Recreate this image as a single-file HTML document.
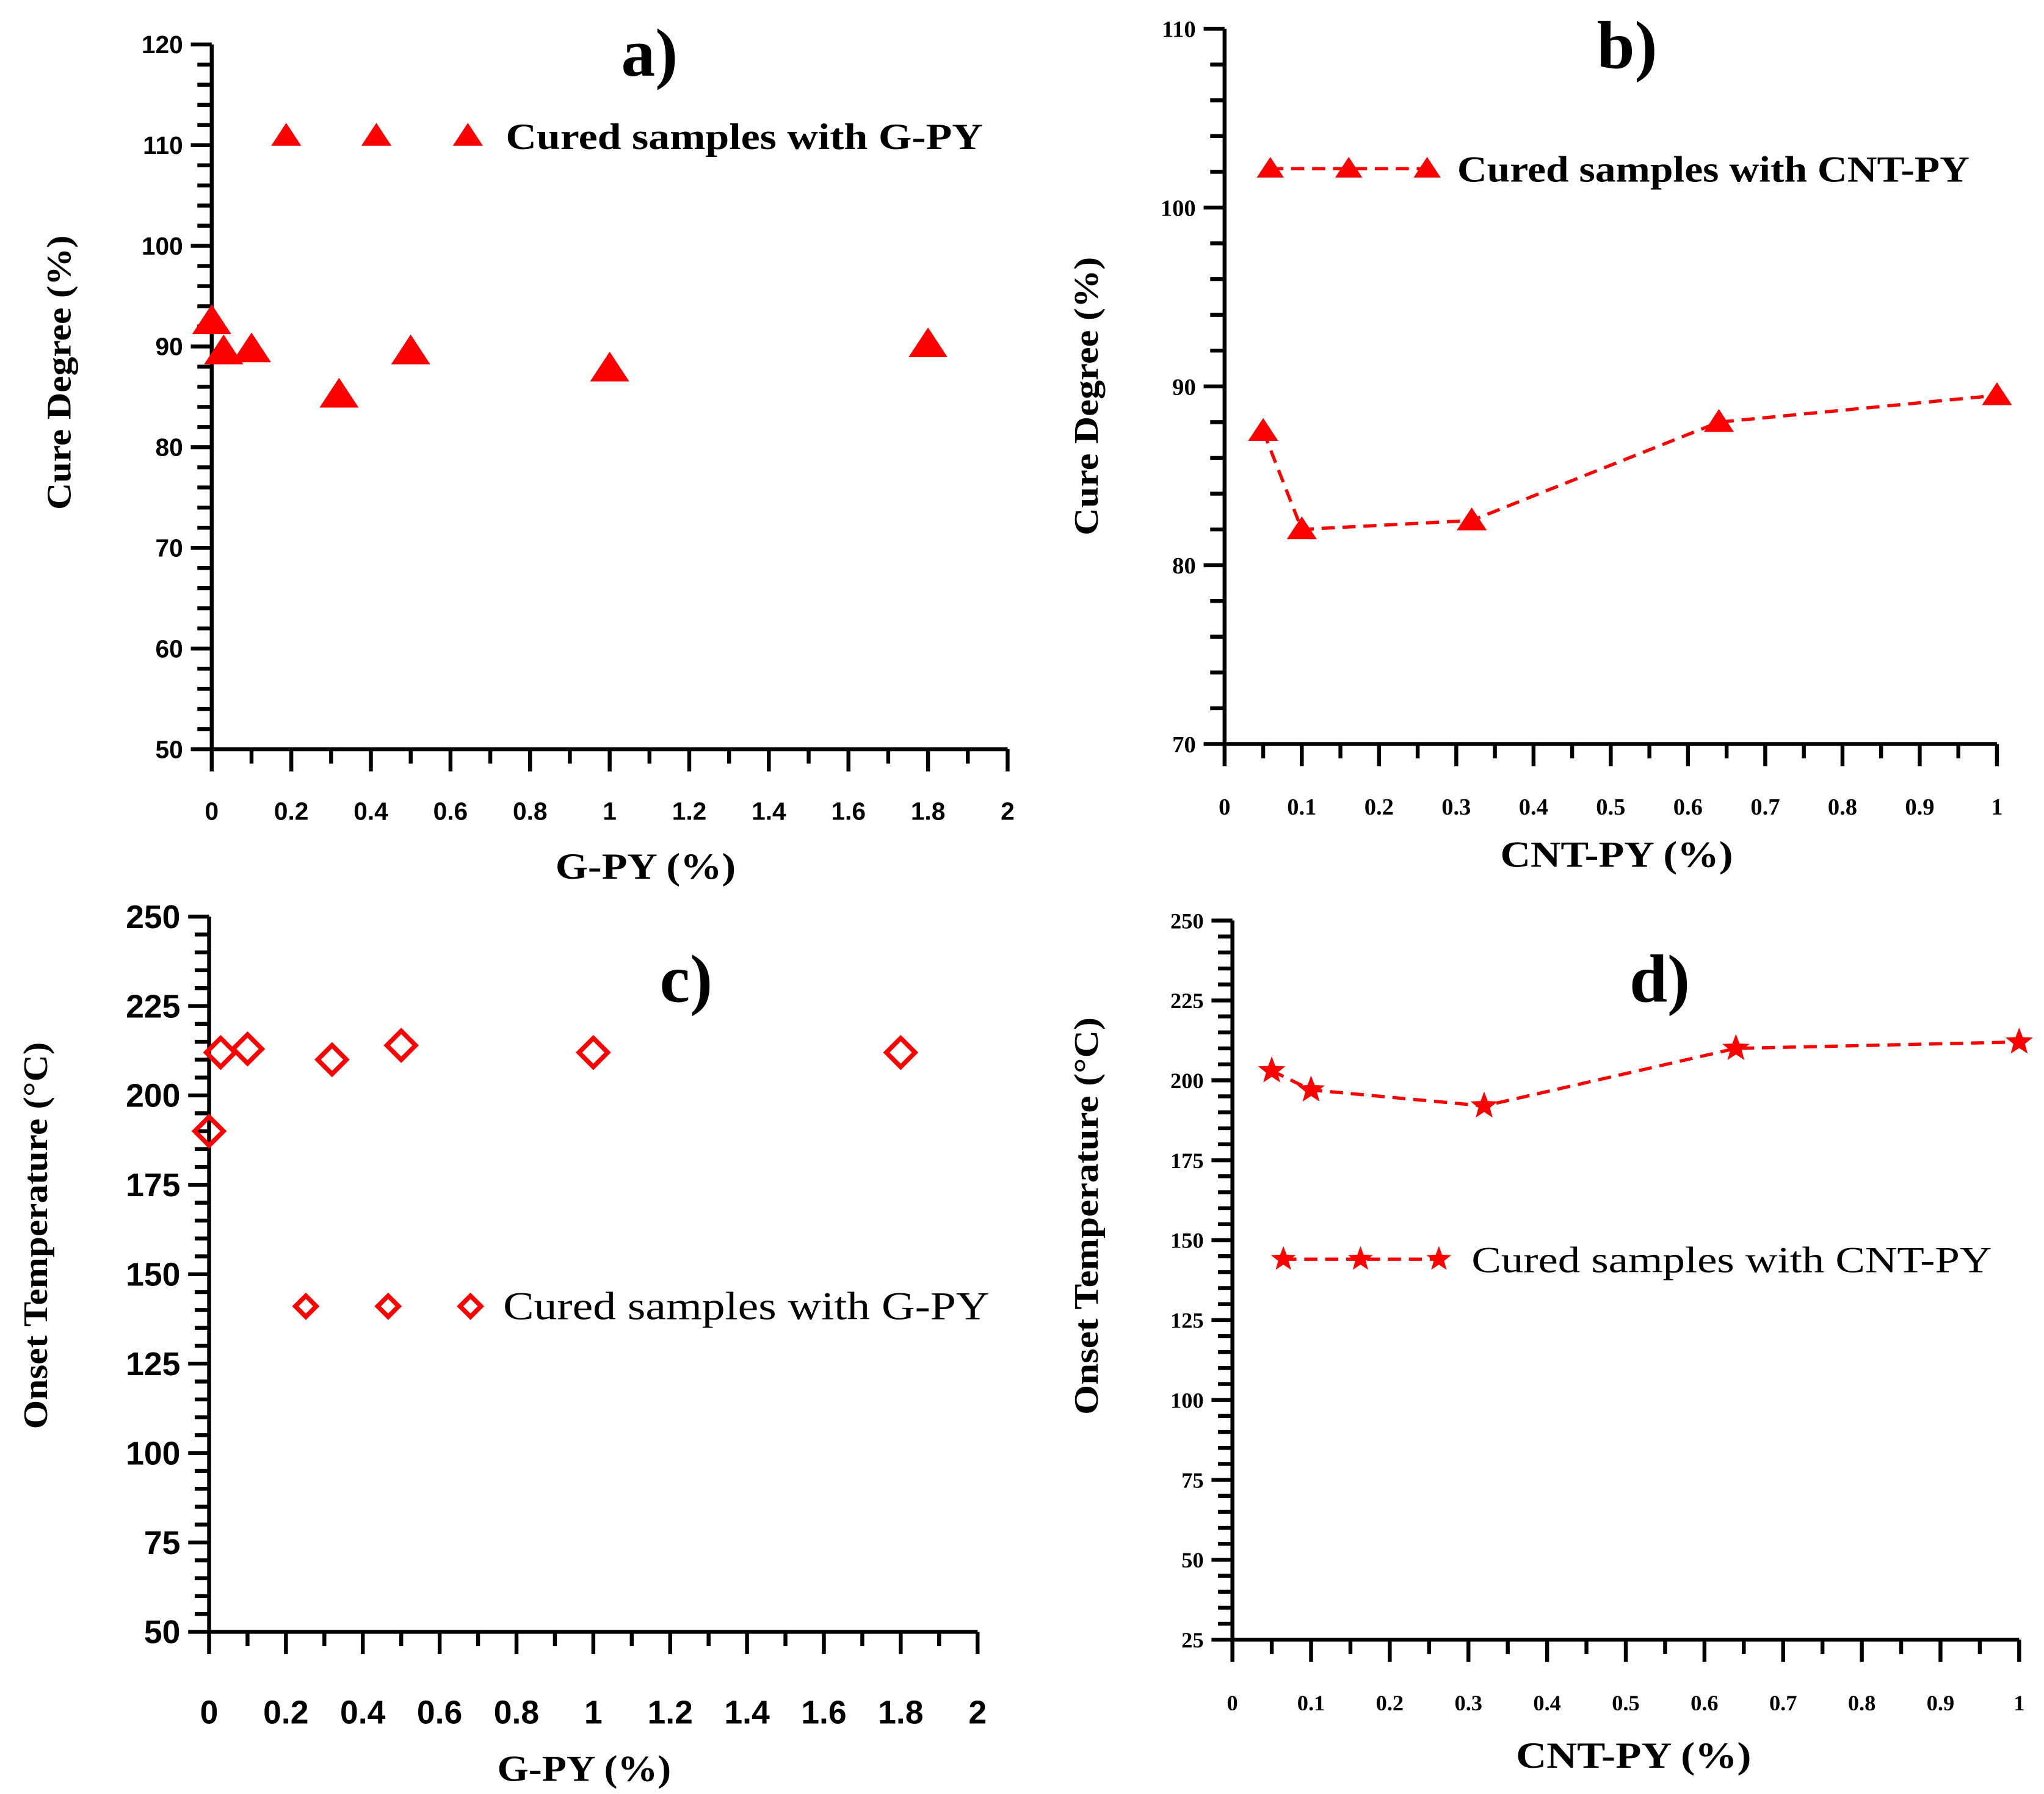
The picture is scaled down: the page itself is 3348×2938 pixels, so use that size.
<!DOCTYPE html>
<html><head><meta charset="utf-8"><style>html,body{margin:0;padding:0;background:#fff}svg{display:block}</style></head>
<body>
<svg id="fig" width="3348" height="2938" viewBox="0 0 1564 1372" preserveAspectRatio="none" xmlns="http://www.w3.org/2000/svg"></svg>
<script>
const aX=[0,0.03,0.1,0.32,0.5,1,1.8];
const aY=[92.5,89.5,89.7,85.2,89.5,87.8,90.2];
const bX=[0.05,0.1,0.32,0.64,1];
const bY=[87.5,82,82.5,88,89.5];
const cX=[0,0.03,0.1,0.32,0.5,1,1.8];
const cY=[190,212,213,210,214,212,212];
const dX=[0.05,0.1,0.32,0.64,1];
const dY=[203,197,192,210,212];
const aXTicks=["0","0.2","0.4","0.6","0.8","1","1.2","1.4","1.6","1.8","2"];
const aYTicks=["50","60","70","80","90","100","110","120"];
const bXTicks=["0","0.1","0.2","0.3","0.4","0.5","0.6","0.7","0.8","0.9","1"];
const bYTicks=["70","80","90","100","110"];
const cYTicks=["50","75","100","125","150","175","200","225","250"];
const dYTicks=["25","50","75","100","125","150","175","200","225","250"];

const NS="http://www.w3.org/2000/svg";
const svg=document.getElementById('fig');
function mk(tag,at,parent){const e=document.createElementNS(NS,tag);for(const k in at)e.setAttribute(k,at[k]);(parent||svg).appendChild(e);return e;}
function txt(s,at,parent){const e=mk('text',at,parent);e.textContent=s;return e;}

function marker(g,type,x,y,s){
  let e;
  if(type==='tri'){e=mk('polygon',{points:`${x},${y-s} ${x-s*1.15},${y+s*0.75} ${x+s*1.15},${y+s*0.75}`,fill:'#ff0000'},g);}
  else if(type==='dia'){e=mk('polygon',{points:`${x},${y-s} ${x+s},${y} ${x},${y+s} ${x-s},${y}`,fill:'none',stroke:'#ff0000','stroke-width':3.5},g);}
  else {let p=[];for(let i=0;i<10;i++){const r=i%2?s*0.42:s;const a=-Math.PI/2+i*Math.PI/5;p.push((x+r*Math.cos(a))+','+(y+r*Math.sin(a)));}
    e=mk('polygon',{points:p.join(' '),fill:'#ff0000'},g);}
  return e;
}

function panel(o){
  const g=mk('g',{});
  
  
  const sx=v=>o.x0+(v-o.xmin)/(o.xmax-o.xmin)*(o.x1-o.x0);
  const sy=v=>o.y0-(v-o.ymin)/(o.ymax-o.ymin)*(o.y0-o.y1);
  const ax=mk('path',{d:`M${o.x0},${o.y1} L${o.x0},${o.y0} L${o.x1},${o.y0}`,stroke:'#000','stroke-width':3,fill:'none'},g);
  
  
  const ny=o.yt.length-1, ystep=(o.ymax-o.ymin)/ny;
  for(let i=0;i<=ny*o.yminor;i++){
    const v=o.ymin+i*ystep/o.yminor, y=sy(v), major=i%o.yminor===0;
    mk('line',{x1:o.x0-(major?16:11),x2:o.x0,y1:y,y2:y,stroke:'#000','stroke-width':3},g);
  }
  o.yt.forEach((s,i)=>{const t=txt(s,{x:o.x0-22,y:sy(o.ymin+i*ystep)+o.yfs*0.35,'text-anchor':'end','font-family':o.tf,'font-weight':'bold','font-size':o.yfs},g);
    
    });
  const nx=o.xt.length-1, xstep=(o.xmax-o.xmin)/nx;
  for(let i=0;i<=nx*2;i++){
    const v=o.xmin+i*xstep/2, x=sx(v), major=i%2===0;
    mk('line',{x1:x,x2:x,y1:o.y0,y2:o.y0+(major?17:11),stroke:'#000','stroke-width':3},g);
  }
  o.xt.forEach((s,i)=>{const t=txt(s,{x:sx(o.xmin+i*xstep),y:o.y0+o.xoff,'text-anchor':'middle','font-family':o.tf,'font-weight':'bold','font-size':o.xfs},g);
    
    });
  const xt=txt(o.xtitle,{x:o.xtx,y:o.xty,'text-anchor':'middle','font-family':'Liberation Serif, serif','font-weight':'bold','font-size':28,textLength:o.xtl,lengthAdjust:'spacingAndGlyphs'},g);
  
  
  const yt=txt(o.ytitle,{x:0,y:0,'text-anchor':'middle','font-family':'Liberation Serif, serif','font-weight':'bold','font-size':o.ytfs,textLength:o.ytl,lengthAdjust:'spacingAndGlyphs',transform:`translate(${o.ytx},${o.yty}) rotate(-90)`},g);
  
  
  const pl=txt(o.label,{x:o.lx,y:o.ly,'text-anchor':'middle','font-family':'Liberation Serif, serif','font-weight':'bold','font-size':52},g);
  
  
  if(o.line){
    const pts=o.xs.map((v,i)=>sx(v)+','+sy(o.ys[i])).join(' ');
    const ln=mk('polyline',{points:pts,fill:'none',stroke:'#ff0000','stroke-width':2.5,'stroke-dasharray':'10,6'},g);
    
    
  }
  o.xs.forEach((v,i)=>{const m=marker(g,o.mk,sx(v),sy(o.ys[i]),o.ms);
    
    });
  const lg=mk('g',{},g);
  
  
  if(o.line) mk('line',{x1:o.lgx[0],x2:o.lgx[2],y1:o.lgy,y2:o.lgy,stroke:'#ff0000','stroke-width':2.5,'stroke-dasharray':'10,6'},lg);
  o.lgx.forEach(x=>marker(lg,o.mk,x,o.lgy,o.lms));
  txt(o.lgtext,{x:o.lgtx,y:o.lgy+10,'font-family':'Liberation Serif, serif','font-weight':o.lgw,'font-size':o.lgfs,textLength:o.lgl,lengthAdjust:'spacingAndGlyphs'},lg);
}

panel({name:'panel-a',x0:162,x1:771,y0:573,y1:34,xmin:0,xmax:2,ymin:50,ymax:120,xt:aXTicks,yt:aYTicks,yminor:5,
  tf:'Liberation Sans, sans-serif',yfs:19,xfs:19,xoff:54,xtitle:'G-PY (%)',xtx:494,xty:672,xtl:138,ytitle:'Cure Degree (%)',ytx:54,yty:285,ytfs:26,ytl:210,
  label:'a)',lx:497,ly:58,xs:aX,ys:aY,mk:'tri',ms:13,line:false,lgx:[219,288,358],lgy:104,lms:10,lgtext:'Cured samples with G-PY',lgtx:387,lgfs:28,lgw:'bold',lgl:365});
panel({name:'panel-b',x0:937,x1:1528,y0:569,y1:22,xmin:0,xmax:1,ymin:70,ymax:110,xt:bXTicks,yt:bYTicks,yminor:5,
  tf:'Liberation Serif, serif',yfs:18,xfs:18,xoff:54,xtitle:'CNT-PY (%)',xtx:1237,xty:663,xtl:178,ytitle:'Cure Degree (%)',ytx:840,yty:303,ytfs:26,ytl:213,
  label:'b)',lx:1245,ly:52,xs:bX,ys:bY,mk:'tri',ms:10,line:true,lgx:[972,1032,1092],lgy:129,lms:9,lgtext:'Cured samples with CNT-PY',lgtx:1115,lgfs:28,lgw:'bold',lgl:392});
panel({name:'panel-c',x0:160,x1:748,y0:1248,y1:701,xmin:0,xmax:2,ymin:50,ymax:250,xt:aXTicks,yt:cYTicks,yminor:5,
  tf:'Liberation Sans, sans-serif',yfs:25,xfs:25,xoff:70,xtitle:'G-PY (%)',xtx:447,xty:1362,xtl:133,ytitle:'Onset Temperature (°C)',ytx:36,yty:945,ytfs:26,ytl:296,
  label:'c)',lx:525,ly:766,xs:cX,ys:cY,mk:'dia',ms:11,line:false,lgx:[234,297,360],lgy:999,lms:8,lgtext:'Cured samples with G-PY',lgtx:385,lgfs:30,lgw:'normal',lgl:372});
panel({name:'panel-d',x0:943,x1:1545,y0:1254,y1:704,xmin:0,xmax:1,ymin:25,ymax:250,xt:bXTicks,yt:dYTicks,yminor:5,
  tf:'Liberation Serif, serif',yfs:17,xfs:17,xoff:54,xtitle:'CNT-PY (%)',xtx:1250,xty:1352,xtl:180,ytitle:'Onset Temperature (°C)',ytx:840,yty:930,ytfs:26,ytl:304,
  label:'d)',lx:1270,ly:766,xs:dX,ys:dY,mk:'star',ms:11,line:true,lgx:[982,1041,1101],lgy:963,lms:10,lgtext:'Cured samples with CNT-PY',lgtx:1126,lgfs:28,lgw:'normal',lgl:398});
</script>
</body></html>
